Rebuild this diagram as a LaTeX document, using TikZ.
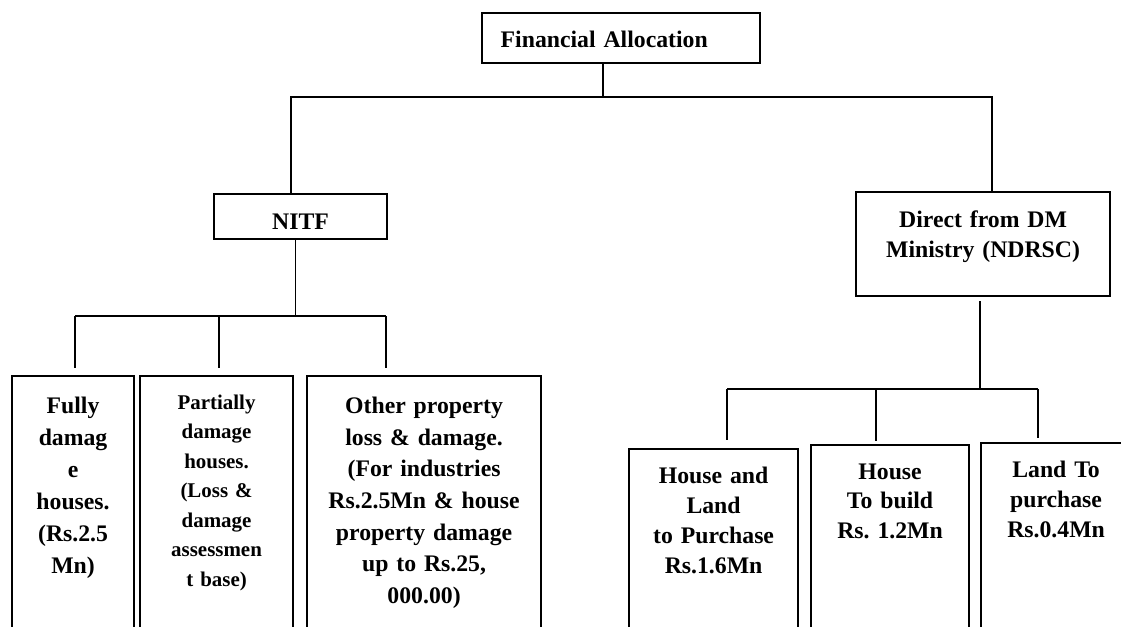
\documentclass[tikz,border=0pt]{standalone}
\usepackage{fontspec}
\setmainfont{Liberation Serif}
\usetikzlibrary{calc}
\frenchspacing
\begin{document}
\begin{tikzpicture}[
  x=0.75pt, y=-0.75pt,
  box/.style={draw, line width=1.6pt, inner sep=0pt, align=center, anchor=north west},
  leaf/.style={box, text depth=200pt},
  big/.style={font=\bfseries\fontsize{17.8pt}{#1}\selectfont},
  big/.default=21pt,
  small/.style={font=\bfseries\fontsize{15.7pt}{#1}\selectfont},
  wire/.style={line width=1.6pt},
  thin wire/.style={line width=0.6pt}
]
\useasboundingbox (0,0) rectangle (1121,626);
\clip (0,0) rectangle (1121,626);
% upper levels
\node[box, big, text width=208.5pt, align=left, text height=25.9pt, text depth=11.6pt] (alloc) at (481,12) {\hspace*{14pt}Financial Allocation};
\node[box, big, minimum width=129.75pt, text height=26.25pt, text depth=7.5pt] (nitf) at (213,193) {NITF};
\node[box, big=22.5pt, text width=190.5pt, text height=26.25pt, text depth=51.75pt] (ndrsc) at (855,191) {Direct from DM\\Ministry (NDRSC)};
% NITF branch
\node[leaf, big=24pt, text width=91.5pt, text height=28pt] (fully) at (11,375) {Fully\\damag\\e\\houses.\\(Rs.2.5\\Mn)};
\node[leaf, small=22.1pt, text width=114.75pt, text height=25pt] (partial) at (139,375) {Partially\\damage\\houses.\\(Loss \&\\damage\\assessmen\\t base)};
\node[leaf, big=23.75pt, text width=175.5pt, text height=28pt] (other) at (306,375) {Other property\\loss \& damage.\\(For industries\\Rs.2.5Mn \& house\\property damage\\up to Rs.25,\\000.00)};
% ministry branch
\node[leaf, big=22.5pt, text width=126.75pt, text height=25.5pt] (houseland) at (628,448) {House and\\Land\\to Purchase\\Rs.1.6Mn};
\node[leaf, big=22.2pt, text width=118.5pt, text height=25.5pt] (house) at (810,444) {House\\To build\\Rs. 1.2Mn};
\node[leaf, big=22.3pt, text width=112.5pt, text height=26pt] (land) at (980,442) {Land To\\purchase\\Rs.0.4Mn};
% connectors
\coordinate (fork) at (603,97);
\coordinate (lbus) at (291,97);
\coordinate (rbus) at (992,97);
\draw[wire] (alloc.south -| fork) -- (fork);
\draw[wire] (nitf.north -| lbus) -- (lbus) -- (rbus) -- (ndrsc.north -| rbus);
\coordinate (nbus) at (295,316);
\draw[thin wire] (nitf.south -| nbus) -- (nbus);
\draw[wire] (75,316) -- (386,316);
\foreach \n/\x in {fully/75, partial/219, other/386} {
  \coordinate (tap) at (\x,316);
  \draw[wire] (tap) -- ($(tap |- \n.north)+(0,-7)$);
}
\coordinate (mbus) at (980,389);
\draw[wire] ($(ndrsc.south -| mbus)+(0,4)$) -- (mbus);
\draw[wire] (727,389) -- (1038,389);
\foreach \n/\x/\g in {houseland/727/8, house/876/3, land/1038/4} {
  \coordinate (tap) at (\x,389);
  \draw[wire] (tap) -- ($(tap |- \n.north)+(0,-\g)$);
}
\end{tikzpicture}
\end{document}
